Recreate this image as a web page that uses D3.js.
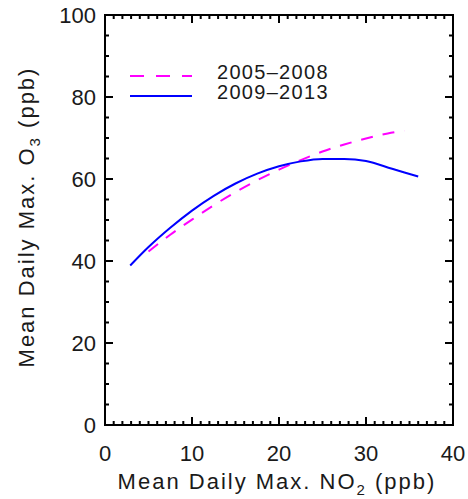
<!DOCTYPE html>
<html>
<head>
<meta charset="utf-8">
<script src="https://cdn.jsdelivr.net/npm/d3@7"></script>
<style>
  body { margin: 0; background: #fff; }
  svg text { font-family: "Liberation Sans", Arial, sans-serif; fill: #1a1a1a; }
</style>
</head>
<body>
<svg id="chart" width="468" height="499"></svg>
<script>
// Mean daily max. NO2 (ppb) vs mean daily max. O3 (ppb), two periods
const no2Early = [5.0, 7.5, 10, 12.5, 15, 17.5, 20, 22.5, 25, 27.5, 30, 32.5, 34.4];
const o3Early  = [42.3, 46.4, 50.1, 53.6, 56.8, 59.7, 62.3, 64.6, 66.7, 68.4, 69.9, 71.1, 71.8];

const no2Late = [2.9, 5, 7.5, 10, 12.5, 15, 17.5, 20, 22.5, 25, 27.5, 30, 33, 36];
const o3Late  = [38.9, 43.4, 48.1, 52.3, 55.9, 58.9, 61.3, 63.1, 64.3, 64.9, 64.9, 64.4, 62.5, 60.6];

const seriesNames = ["2005\u20132008", "2009\u20132013"];
const seriesColors = ["#ff00ff", "#0000ff"];

const xMajor = [0, 10, 20, 30, 40];
const yMajor = [0, 20, 40, 60, 80, 100];
const xMinor = d3.range(0, 41, 1).filter(v => !xMajor.includes(v));
const yMinor = d3.range(0, 101, 5).filter(v => !yMajor.includes(v));

const W = 468, H = 499;
const margin = { left: 105, right: 15, top: 15, bottom: 74 };
const svg = d3.select("#chart");

const x = d3.scaleLinear().domain([0, 40]).range([margin.left, W - margin.right]);
const y = d3.scaleLinear().domain([0, 100]).range([H - margin.bottom, margin.top]);

const pLeft = x(0), pRight = x(40), pBottom = y(0), pTop = y(100);
const MAJ = 8, MIN = 4;

// frame
svg.append("rect")
  .attr("x", pLeft).attr("y", pTop).attr("width", pRight - pLeft).attr("height", pBottom - pTop)
  .attr("fill", "none").attr("stroke", "#000").attr("stroke-width", 2);

// inward ticks on all four sides, built as one path
const p = d3.path();
[[xMajor, MAJ], [xMinor, MIN]].forEach(([vals, len]) => vals.forEach(v => {
  p.moveTo(x(v), pBottom); p.lineTo(x(v), pBottom - len);
  p.moveTo(x(v), pTop);    p.lineTo(x(v), pTop + len);
}));
[[yMajor, MAJ], [yMinor, MIN]].forEach(([vals, len]) => vals.forEach(v => {
  p.moveTo(pLeft, y(v));  p.lineTo(pLeft + len, y(v));
  p.moveTo(pRight, y(v)); p.lineTo(pRight - len, y(v));
}));
svg.append("path").attr("d", p.toString())
  .attr("fill", "none").attr("stroke", "#000").attr("stroke-width", 2);

// tick labels
svg.append("g").selectAll("text").data(xMajor).join("text")
  .attr("x", d => x(d)).attr("y", 461).attr("text-anchor", "middle")
  .style("font-size", "22px").text(d => d);
svg.append("g").selectAll("text").data(yMajor).join("text")
  .attr("x", 96).attr("y", d => y(d)).attr("dy", "0.36em").attr("text-anchor", "end")
  .style("font-size", "22px").text(d => d);

// curves
const line = d3.line().x(d => x(d[0])).y(d => y(d[1])).curve(d3.curveMonotoneX);
const earlyPts = no2Early.map((v, i) => [v, o3Early[i]]);
const latePts = no2Late.map((v, i) => [v, o3Late[i]]);

svg.append("path").datum(earlyPts).attr("d", line)
  .attr("fill", "none").attr("stroke", seriesColors[0]).attr("stroke-width", 2)
  .attr("stroke-dasharray", "12,10");
svg.append("path").datum(latePts).attr("d", line)
  .attr("fill", "none").attr("stroke", seriesColors[1]).attr("stroke-width", 2);

// legend
const legY = [76, 96];
seriesNames.forEach((name, i) => {
  svg.append("line")
    .attr("x1", 130).attr("x2", 192).attr("y1", legY[i]).attr("y2", legY[i])
    .attr("stroke", seriesColors[i]).attr("stroke-width", 2)
    .attr("stroke-dasharray", i === 0 ? "14,12" : null);
  svg.append("text").attr("x", 217).attr("y", legY[i] + 3)
    .style("font-size", "20px").style("letter-spacing", "1.3px").text(name);
});

// axis titles
const xt = svg.append("text").attr("x", 277).attr("y", 489)
  .attr("text-anchor", "middle").style("font-size", "22px").style("letter-spacing", "2px");
xt.append("tspan").text("Mean Daily Max. NO");
xt.append("tspan").attr("dy", 6).style("font-size", "15px").text("2");
xt.append("tspan").attr("dy", -6).text(" (ppb)");

const yt = svg.append("text")
  .attr("transform", "translate(34,217) rotate(-90)")
  .attr("text-anchor", "middle").style("font-size", "22px").style("letter-spacing", "2px");
yt.append("tspan").text("Mean Daily Max. O");
yt.append("tspan").attr("dy", 6).style("font-size", "15px").text("3");
yt.append("tspan").attr("dy", -6).text(" (ppb)");
</script>
</body>
</html>
